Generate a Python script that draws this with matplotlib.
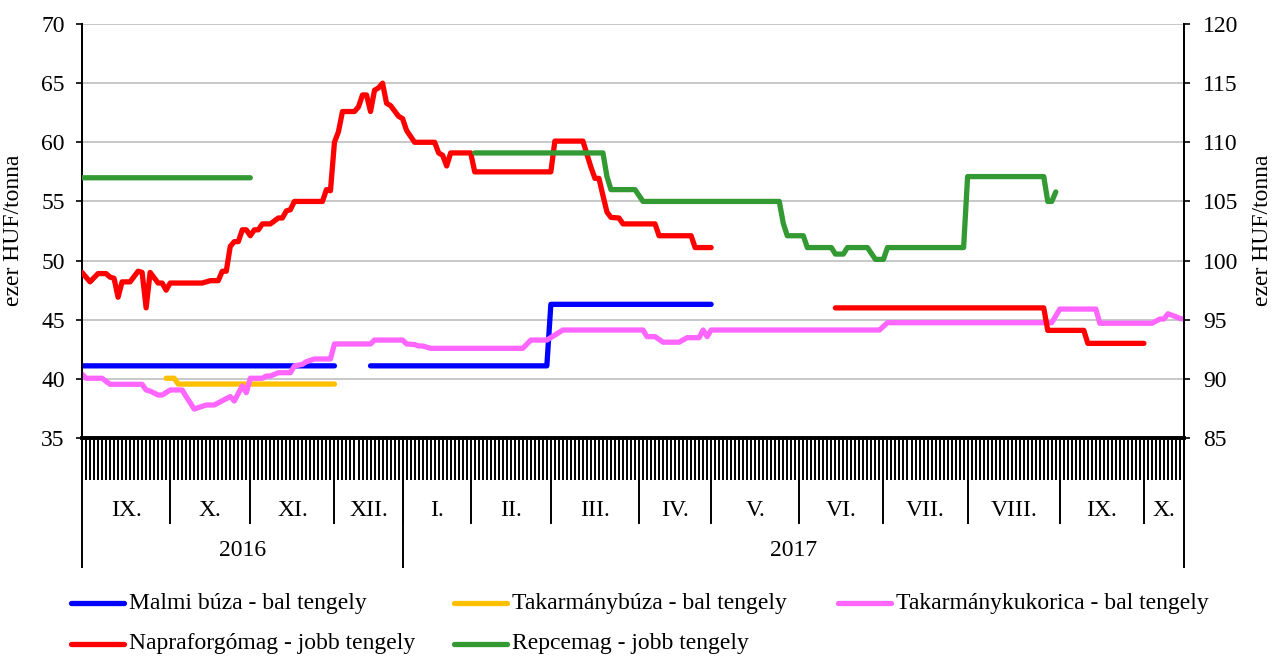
import numpy as np
import matplotlib
matplotlib.use("Agg")
import matplotlib.pyplot as plt
from matplotlib.lines import Line2D
from matplotlib.transforms import blended_transform_factory

plt.rcParams['font.family'] = ['Liberation Serif', 'DejaVu Serif']

# x = trading-day index (Sept 2016 .. Oct 2017)
month_labels = ['IX.', 'X.', 'XI.', 'XII.', 'I.', 'II.', 'III.', 'IV.', 'V.',
                'VI.', 'VII.', 'VIII.', 'IX.', 'X.']
month_days = [22, 20, 21, 17, 17, 20, 22, 18, 22, 21, 21, 23, 21, 10]
year_labels = ['2016', '2017']
year_months = [4, 10]

# left axis series
malmi_x = [0, 63, 67, 72, 116, 117, 157]
malmi_y = [41.1, 41.1, np.nan, 41.1, 41.1, 46.3, 46.3]

takbuza_x = [21, 23, 24, 63]
takbuza_y = [40.05, 40.05, 39.56, 39.56]

kukorica_x = [0, 1, 5, 7, 15, 16, 17, 19, 20, 22, 25, 26, 28, 31, 33, 35, 37, 38,
              40, 41, 42, 45, 46, 47, 49, 52, 53, 55, 56, 58, 62, 63, 72, 73, 80,
              81, 83, 84, 85, 87, 110, 112, 116, 118, 120, 140, 141, 143, 145,
              149, 151, 154, 155, 156, 157, 199, 201, 242, 244, 253, 254, 267,
              269, 270, 271, 273, 274, 275]
kukorica_y = [40.4, 40.05, 40.05, 39.54, 39.54, 39.06, 38.97, 38.63, 38.63, 39.06,
              39.06, 38.5, 37.45, 37.79, 37.79, 38.15, 38.5, 38.13, 39.4, 38.83,
              40.05, 40.05, 40.24, 40.24, 40.52, 40.52, 41.09, 41.23, 41.45, 41.68,
              41.68, 42.95, 42.95, 43.28, 43.28, 42.95, 42.9, 42.78, 42.78, 42.58,
              42.58, 43.28, 43.28, 43.7, 44.13, 44.13, 43.57, 43.57, 43.1, 43.1,
              43.48, 43.48, 44.13, 43.57, 44.13, 44.13, 44.75, 44.75, 45.9, 45.9,
              44.7, 44.7, 45.06, 45.06, 45.5, 45.25, 45.1, 45.06]

# right axis series
napra_x = [0, 2, 4, 6, 7, 8, 9, 10, 12, 14, 15, 16, 17, 19, 20, 21, 22, 30, 32,
           34, 35, 36, 37, 38, 39, 40, 41, 42, 43, 44, 45, 47, 49, 50, 51, 52, 53,
           60, 61, 62, 63, 64, 65, 68, 69, 70, 71, 72, 73, 74, 75, 76, 77, 79, 80,
           81, 83, 88, 89, 90, 91, 92, 97, 98, 117, 118, 125, 127, 128, 129, 130,
           131, 132, 134, 135, 143, 144, 152, 153, 157, 170, 188, 240, 241, 250,
           251, 265]
napra_y = [99.0, 98.2, 98.9, 98.9, 98.6, 98.5, 96.9, 98.2, 98.2, 99.1, 99.0, 96.0,
           99.0, 98.1, 98.1, 97.5, 98.1, 98.1, 98.3, 98.3, 99.1, 99.1, 101.2, 101.6,
           101.6, 102.6, 102.6, 102.1, 102.6, 102.6, 103.1, 103.1, 103.6, 103.6,
           104.2, 104.3, 105.0, 105.0, 106.0, 105.9, 110.0, 110.9, 112.6, 112.6,
           113.0, 114.0, 114.0, 112.6, 114.4, 114.6, 115.0, 113.3, 113.1, 112.2,
           112.0, 111.0, 110.0, 110.0, 109.1, 108.9, 108.0, 109.1, 109.1, 107.5,
           107.5, 110.1, 110.1, 107.9, 106.95, 106.95, 105.5, 104.1, 103.65, 103.6,
           103.1, 103.1, 102.1, 102.1, 101.1, 101.1, np.nan, 96.0, 96.0, 94.1,
           94.1, 93.0, 93.0]

repce_x = [0, 42, 70, 98, 130, 131, 132, 138, 140, 174, 175, 176, 180, 181, 187,
           188, 190, 191, 196, 198, 200, 201, 220, 221, 240, 241, 242, 243]
repce_y = [107.0, 107.0, np.nan, 109.1, 109.1, 107.1, 106.0, 106.0, 105.0, 105.0,
           103.15, 102.1, 102.1, 101.1, 101.1, 100.55, 100.55, 101.1, 101.1, 100.1,
           100.1, 101.1, 101.1, 107.1, 107.1, 105.0, 105.0, 105.8]

W, H = 1274, 656
fs = 17
fig = plt.figure(figsize=(W / 100, H / 100), dpi=100)
ax_l, ax_r, ax_t, ax_b = 82, 1184, 24, 438
ax = fig.add_axes([ax_l / W, 1 - ax_b / H, (ax_r - ax_l) / W, (ax_b - ax_t) / H])
ax2 = ax.twinx()

lw = 3.8
ax.plot(malmi_x, malmi_y, color='#0000FF', lw=lw, solid_capstyle='round', zorder=3)
ax.plot(takbuza_x, takbuza_y, color='#FFC000', lw=lw, solid_capstyle='round', zorder=3)
ax.plot(kukorica_x, kukorica_y, color='#FF66FF', lw=lw, solid_capstyle='round', zorder=3)
ax2.plot(napra_x, napra_y, color='#FF0000', lw=lw, solid_capstyle='round', zorder=3)
ax2.plot(repce_x, repce_y, color='#339933', lw=lw, solid_capstyle='round', zorder=3)

n_days = sum(month_days)
ax.set_xlim(0, n_days)
ax.set_ylim(35, 70)
ax2.set_ylim(85, 120)
ax.set_yticks(np.arange(35, 71, 5))
ax2.set_yticks(np.arange(85, 121, 5))

ax.grid(axis='y', color='#BFBFBF', lw=1.2)
ax.set_axisbelow(True)

for a in (ax, ax2):
    a.spines['top'].set_visible(False)
    a.spines['left'].set_linewidth(1.4)
    a.spines['right'].set_linewidth(1.4)
    a.spines['bottom'].set_linewidth(2.6)
ax.tick_params(axis='y', direction='out', length=4.5, width=1.2, labelsize=fs, pad=8)
ax2.tick_params(axis='y', direction='out', length=4.5, width=1.2, labelsize=fs, pad=9)

# one tick per trading day
ax.set_xticks(np.arange(0, n_days + 1))
ax.tick_params(axis='x', direction='out', length=30.2, width=1.4, labelbottom=False)

# month / year separators and labels below the axis
axh = ax_b - ax_t
tr = blended_transform_factory(ax.transData, ax.transAxes)
bounds = np.concatenate([[0], np.cumsum(month_days)])
y_top = -42 / axh
y_mon = -85 / axh
y_year = -129 / axh
for i, lab in enumerate(month_labels):
    ax.text((bounds[i] + bounds[i + 1]) / 2, -72 / axh, lab, transform=tr,
            ha='center', va='center', fontsize=fs)
for b in bounds[1:-1]:
    ax.add_line(Line2D([b, b], [y_top, y_mon], transform=tr, color='black',
                       lw=1.4, clip_on=False))
ybounds = bounds[np.concatenate([[0], np.cumsum(year_months)])]
for b in ybounds:
    ax.add_line(Line2D([b, b], [0, y_year], transform=tr, color='black',
                       lw=1.4, clip_on=False))
for i, lab in enumerate(year_labels):
    ax.text((ybounds[i] + ybounds[i + 1]) / 2, -113 / axh, lab, transform=tr,
            ha='center', va='center', fontsize=fs)

fig.text(14 / W, 1 - 230 / H, 'ezer HUF/tonna', rotation=90, ha='center',
         va='center', fontsize=fs)
fig.text(1263 / W, 1 - 230 / H, 'ezer HUF/tonna', rotation=90, ha='center',
         va='center', fontsize=fs)

# legend, laid out like the original
legend_items = [('Malmi búza - bal tengely', '#0000FF', 71, 603),
                ('Takarmánybúza - bal tengely', '#FFC000', 454, 603),
                ('Takarmánykukorica - bal tengely', '#FF66FF', 838, 603),
                ('Napraforgómag - jobb tengely', '#FF0000', 71, 644),
                ('Repcemag - jobb tengely', '#339933', 454, 644)]
for text, col, x0, y0 in legend_items:
    fig.add_artist(Line2D([x0 / W, (x0 + 53) / W], [1 - y0 / H, 1 - y0 / H],
                          color=col, lw=lw, solid_capstyle='round'))
    fig.text((x0 + 58) / W, 1 - y0 / H, text, ha='left', va='center', fontsize=fs)

fig.savefig('out.png', dpi=100)
